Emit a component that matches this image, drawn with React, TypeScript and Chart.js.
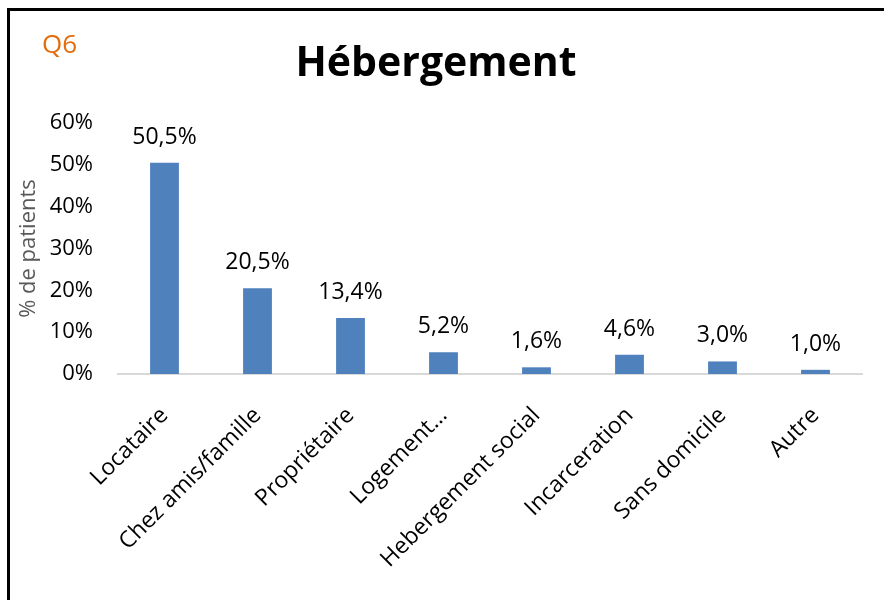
import React, { useEffect, useRef } from "react";
import { Chart, registerables } from "chart.js";

Chart.register(...registerables);

const categories = [
  "Locataire",
  "Chez amis/famille",
  "Propriétaire",
  "Logement…",
  "Hebergement social",
  "Incarceration",
  "Sans domicile",
  "Autre",
];
const values = [50.5, 20.5, 13.4, 5.2, 1.6, 4.6, 3.0, 1.0];
const yTicks = [0, 10, 20, 30, 40, 50, 60];
const chartTitle = "Hébergement";
const questionTag = "Q6";
const yAxisTitle = "% de patients";

const FONT = "'Open Sans', 'Noto Sans', sans-serif";

const fmt = (v: number) => v.toFixed(1).replace(".", ",") + "%";

const labelsPlugin = {
  id: "barLabels",
  afterDatasetsDraw(chart: any) {
    const ctx = chart.ctx;
    const meta = chart.getDatasetMeta(0);
    ctx.save();
    ctx.font = `23px ${FONT}`;
    ctx.fillStyle = "#000";
    ctx.textAlign = "center";
    ctx.textBaseline = "alphabetic";
    meta.data.forEach((bar: any, i: number) => {
      ctx.fillText(fmt(values[i]), bar.x, bar.y - 19);
    });
    ctx.restore();
  },
};

const headerPlugin = {
  id: "header",
  afterDraw(chart: any) {
    const ctx = chart.ctx;
    ctx.save();
    ctx.textBaseline = "alphabetic";
    ctx.fillStyle = "#000";
    ctx.textAlign = "center";
    ctx.font = `bold 41px ${FONT}`;
    ctx.fillText(chartTitle, 436, 76);
    ctx.fillStyle = "#E46C0A";
    ctx.textAlign = "left";
    ctx.font = `26px ${FONT}`;
    ctx.fillText(questionTag, 42, 53);
    ctx.restore();
  },
};

export default function App() {
  const ref = useRef<HTMLCanvasElement | null>(null);
  useEffect(() => {
    if (!ref.current) return;
    const chart = new Chart(ref.current, {
      type: "bar",
      data: {
        labels: categories,
        datasets: [
          {
            data: values,
            backgroundColor: "#4F81BD",
            borderWidth: 0,
            categoryPercentage: 1,
            barPercentage: 0.31,
          },
        ],
      },
      options: {
        responsive: false,
        animation: false,
        layout: { padding: { top: 123, right: 22, left: 8, bottom: 0 } },
        plugins: {
          legend: { display: false },
          tooltip: { enabled: false },
          title: { display: false },
        },
        scales: {
          x: {
            grid: { display: false, drawTicks: false },
            border: { display: true, color: "#D9D9D9", width: 2 },
            ticks: {
              color: "#000",
              font: { family: FONT, size: 23 },
              maxRotation: 45,
              minRotation: 45,
              autoSkip: false,
              padding: 28,
            },
            afterFit: (s: any) => {
              s.height = 226;
            },
          },
          y: {
            min: 0,
            max: 60,
            grid: { display: false, drawTicks: false },
            border: { display: false },
            afterBuildTicks: (s: any) => {
              s.ticks = yTicks.map((v) => ({ value: v }));
            },
            ticks: {
              color: "#000",
              font: { family: FONT, size: 22 },
              padding: 25,
              callback: (v: any) => v + "%",
            },
            title: {
              display: true,
              text: yAxisTitle,
              color: "#595959",
              font: { family: FONT, size: 22 },
              padding: { top: 8, bottom: 0 },
            },
            afterFit: (s: any) => {
              s.width = 110;
            },
          },
        },
      },
      plugins: [labelsPlugin, headerPlugin],
    });
    return () => chart.destroy();
  }, []);

  return (
    <div>
      <canvas
        ref={ref}
        width={884}
        height={600}
        style={{ position: "fixed", left: 0, top: 0, width: 884, height: 600, background: "#fff" }}
      />
      <div
        style={{
          position: "fixed",
          left: 7,
          top: 8,
          width: 1000,
          height: 1000,
          borderTop: "3px solid #000",
          borderLeft: "3px solid #000",
          pointerEvents: "none",
        }}
      />
    </div>
  );
}
